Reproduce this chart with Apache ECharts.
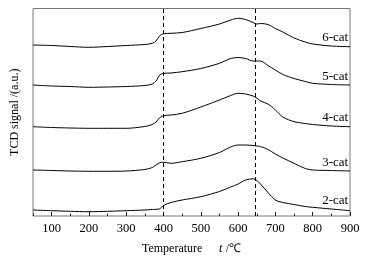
<!DOCTYPE html>
<html>
<head>
<meta charset="utf-8">
<script src="https://cdn.jsdelivr.net/npm/echarts@6/dist/echarts.min.js"></script>
<style>html,body{margin:0;padding:0;background:#fff}#c{width:377px;height:260px}</style>
</head>
<body>
<div id="c"></div>
<script>
var temps = [50,100,150,200,250,300,350,370,380,390,400,420,450,500,550,580,600,620,640,650,660,680,700,720,750,780,800,850,900];
var cat6 = [171,170.5,169.5,168.7,169.5,170.5,171.5,172.7,175,180.5,182.3,182.7,183.5,187.5,192,196,197.7,196.5,193.5,192,192.5,191.5,187.5,184,178,174,172,170,169.3];
var cat5 = [131,130,129.5,128.7,129,129.5,130.5,132,135,141,142.7,143,144.3,147.5,152.7,157.5,158.5,157.5,155,155,155,150.5,146,141.5,137.5,134.5,132.7,131.5,131];
var cat4 = [89.3,88.5,88,87.7,87.7,87.7,89.5,91.5,94,98.5,100.3,101,102.7,109,116,120.5,122.7,122,120,118,115,112,106,99,94.3,92.5,91.5,90,89.3];
var cat3 = [46,45.5,45,44.7,44.7,45,46.5,48.5,51,53.3,53.7,52.7,54.3,57.7,63.5,69,71,71,70.5,70,69.5,66.5,62,58,52.7,47.5,46,45.5,45];
var cat2 = [6,5.3,4.7,4.3,4.7,5.3,6,6.5,6.7,7.2,10.5,13.5,16,19.3,24.5,29,32,36,37.2,35.5,32,23.5,16,13.5,11.5,9.5,8.7,7,5.3];
var seriesNames = ['6-cat','5-cat','4-cat','3-cat','2-cat'];
var majorTicks = [100,200,300,400,500,600,700,800,900];
var minorTicks = [50,150,250,350,450,550,650,750,850];
var dashedAt = [400,647];
var labelLevels = [178,139,98,53,15];

var font = '"Liberation Serif","Times New Roman",serif';
var allData = [cat6,cat5,cat4,cat3,cat2];
function pairs(arr){return temps.map(function(t,i){return [t,arr[i]];});}
var series = allData.map(function(arr,i){
  var s = {name:seriesNames[i],type:'line',data:pairs(arr),showSymbol:false,smooth:0.3,
    lineStyle:{color:'#000',width:1},animation:false,
    markPoint:{symbolSize:0,data:[{coord:[895,labelLevels[i]],value:seriesNames[i]}],
      label:{show:true,position:'left',distance:0,color:'#000',fontFamily:font,fontSize:13,formatter:'{c}'}}};
  if(i===0){
    s.markLine={symbol:'none',silent:true,label:{show:false},
      lineStyle:{color:'#000',type:[4,3],width:1},
      data:dashedAt.map(function(v){return {xAxis:v};})};
  }
  return s;
});
var chart = echarts.init(document.getElementById('c'));
chart.setOption({
  animation:false,
  grid:{left:33,right:27,top:8.5,bottom:44,show:true,borderColor:'#777',borderWidth:1,containLabel:false},
  xAxis:[{type:'value',min:50,max:900,position:'bottom',
    axisLine:{show:false},splitLine:{show:false},
    axisTick:{show:true,inside:true,length:4,lineStyle:{color:'#222'},customValues:majorTicks},
    axisLabel:{color:'#000',fontFamily:font,fontSize:12.5,margin:6,customValues:majorTicks},
    name:'{a|Temperature}     {b|t} {a|/℃}',nameLocation:'middle',nameGap:27,
    nameTextStyle:{rich:{a:{fontFamily:font,fontSize:12,color:'#000'},b:{fontFamily:font,fontSize:12,fontStyle:'italic',color:'#000'}}}
  },{type:'value',min:50,max:900,position:'bottom',
    axisLine:{show:false},splitLine:{show:false},
    axisTick:{show:true,inside:true,length:2.5,lineStyle:{color:'#222'},customValues:minorTicks},
    axisLabel:{show:false}
  }],
  yAxis:{type:'value',min:0,max:207.5,axisLine:{show:false},axisTick:{show:false},axisLabel:{show:false},splitLine:{show:false},
    name:'TCD signal /(a.u.)',nameLocation:'middle',nameGap:12,
    nameTextStyle:{fontFamily:font,fontSize:12,color:'#000'}},
  series:series
});
</script>
</body>
</html>
